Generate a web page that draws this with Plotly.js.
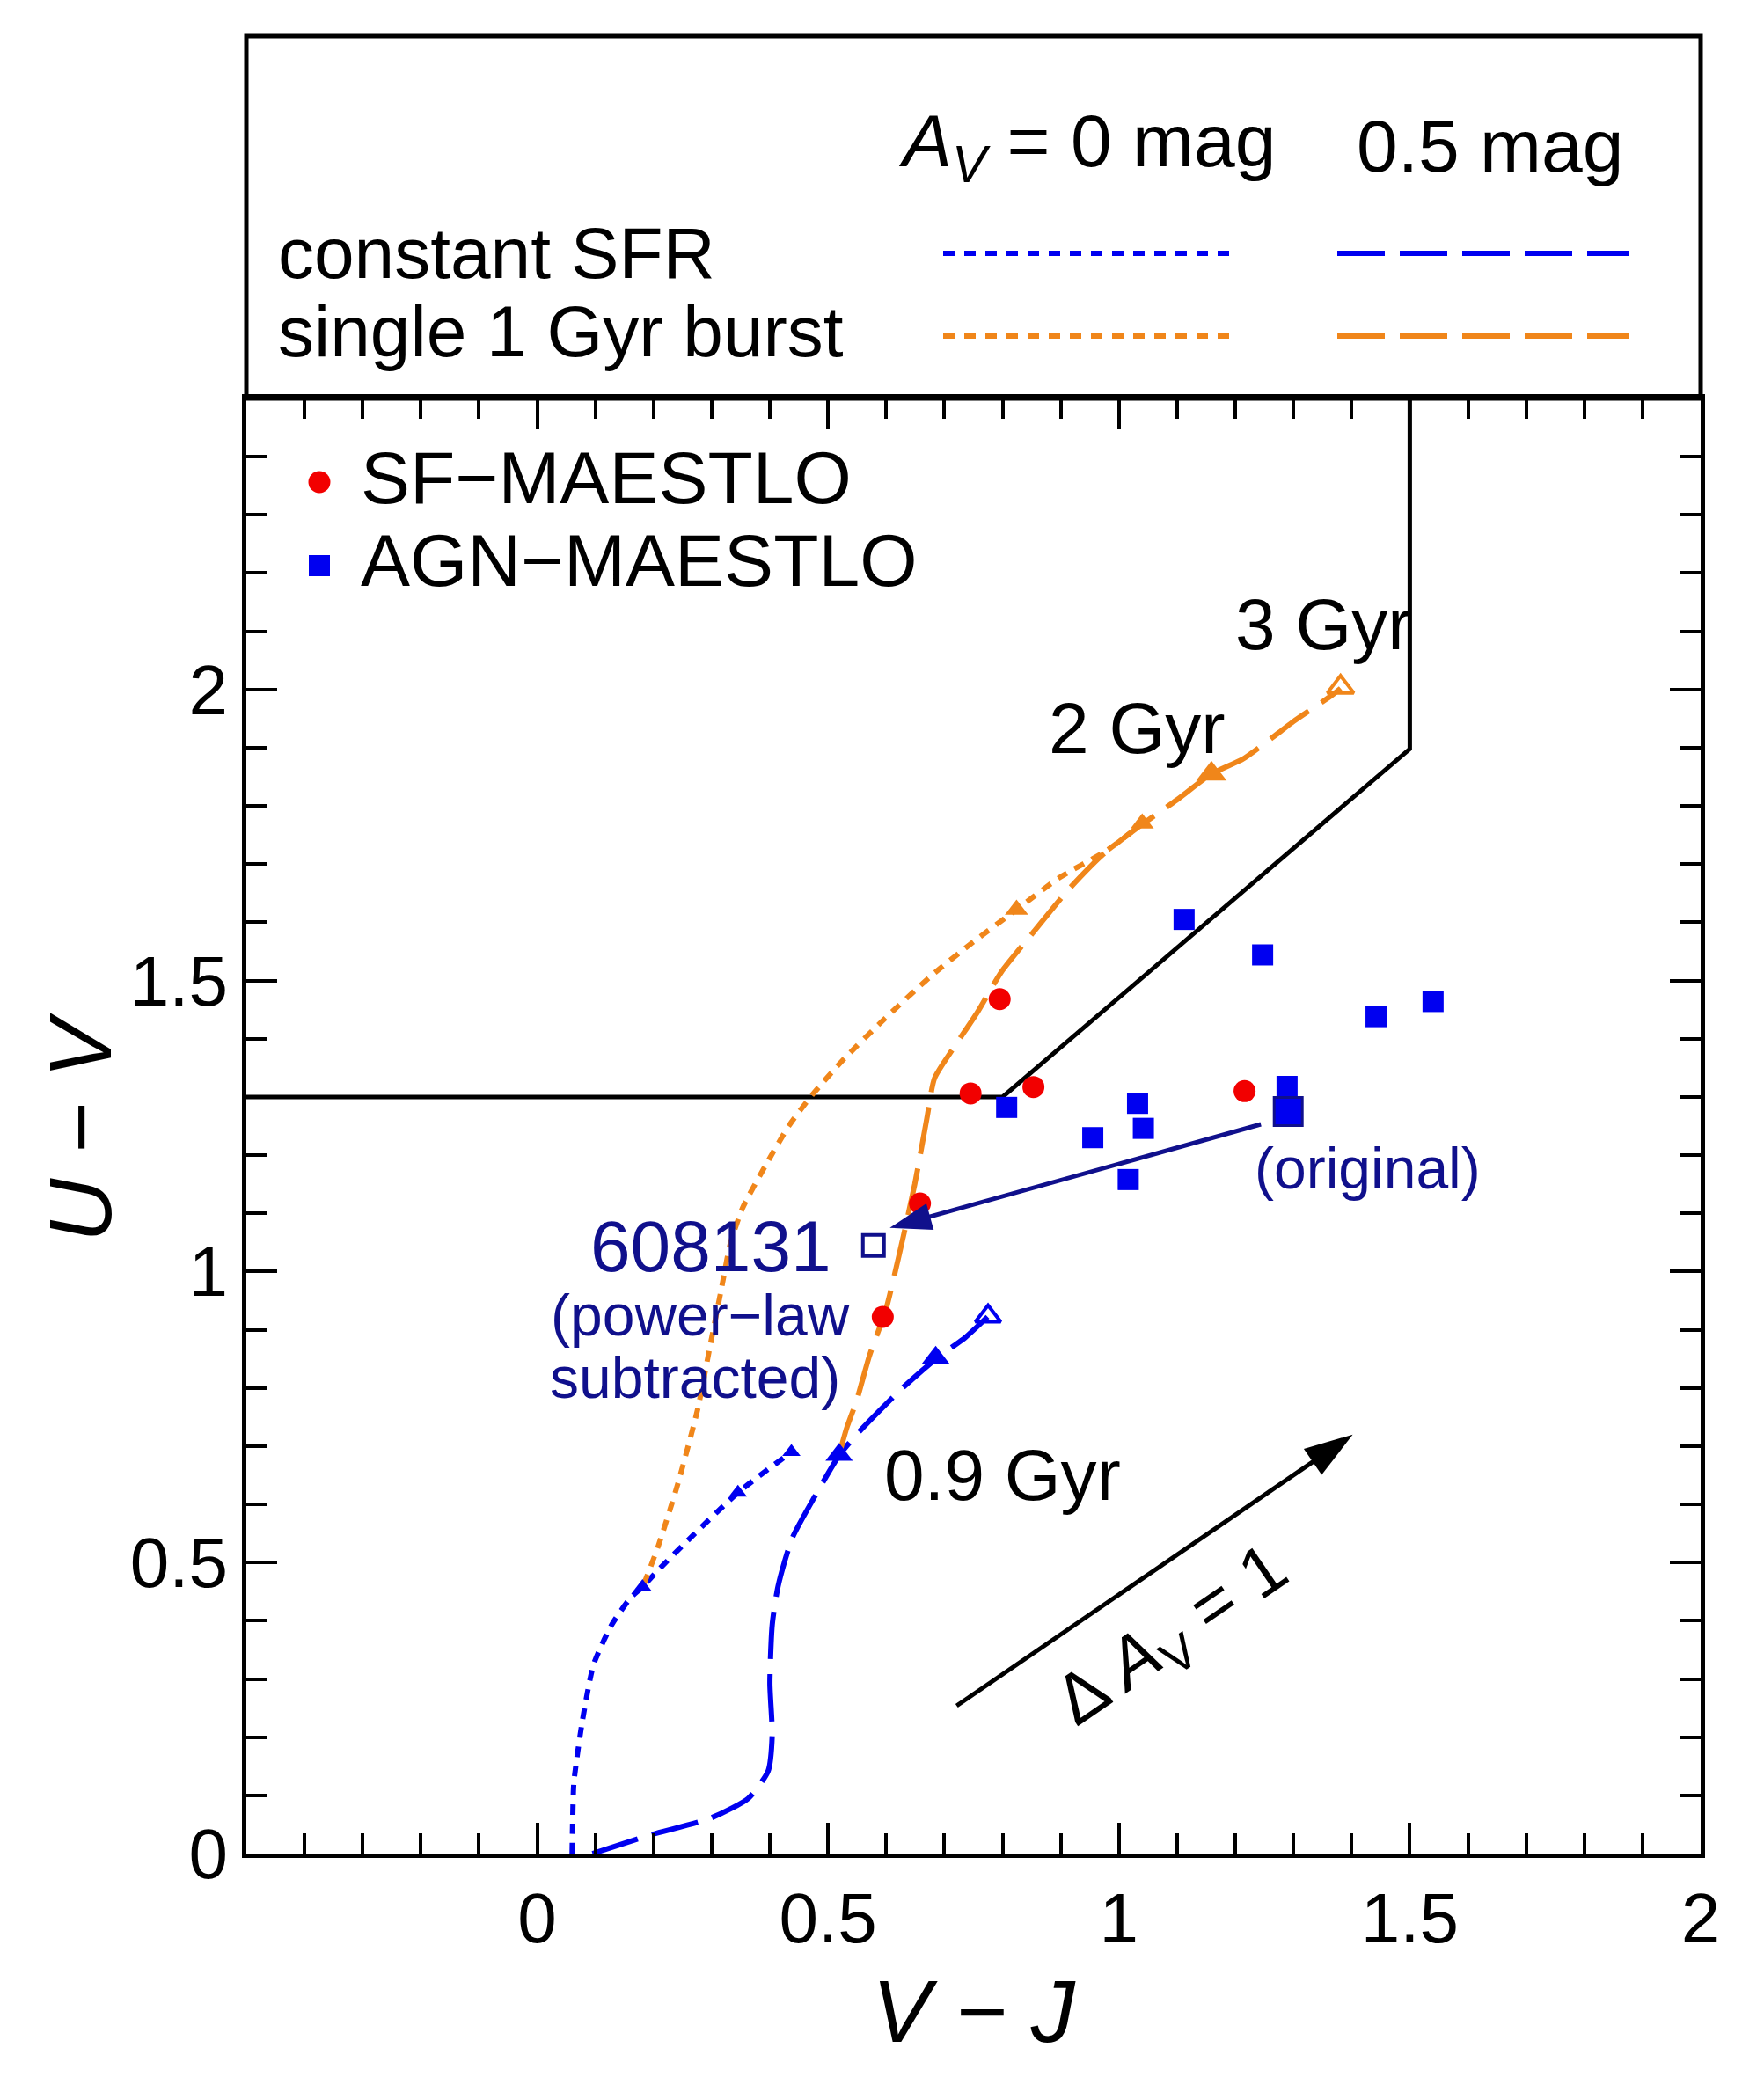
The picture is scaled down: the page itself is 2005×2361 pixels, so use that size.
<!DOCTYPE html>
<html>
<head>
<meta charset="utf-8">
<script src="https://cdn.plot.ly/plotly-3.0.1.min.js"></script>
<style>
html, body { margin: 0; padding: 0; background: #ffffff; }
#chart { width: 2005px; height: 2361px; }
</style>
</head>
<body>
<div id="chart"></div>
<script>
// ---------- data ----------
// UVJ quiescent selection boundary
const boxX = [-0.5, 0.8, 1.5, 1.5];
const boxY = [1.3, 1.3, 1.898, 2.5];

// constant SFR, A_V = 0 (dotted blue)
const csfr0X = [0.060, 0.061, 0.063, 0.077, 0.097, 0.128, 0.161, 0.181, 0.208, 0.262, 0.345, 0.437];
const csfr0Y = [0.000, 0.060, 0.122, 0.224, 0.325, 0.393, 0.440, 0.458, 0.487, 0.541, 0.620, 0.690];
// constant SFR, A_V = 0.5 (dashed blue)
const csfr5X = [0.095, 0.195, 0.296, 0.363, 0.397, 0.404, 0.400, 0.404, 0.414, 0.438, 0.478, 0.519, 0.552, 0.626, 0.688, 0.735, 0.775];
const csfr5Y = [0.000, 0.032, 0.060, 0.095, 0.142, 0.204, 0.292, 0.393, 0.459, 0.541, 0.615, 0.684, 0.723, 0.798, 0.852, 0.886, 0.923];
// single 1 Gyr burst, A_V = 0 (dotted orange)
const burst0X = [0.183, 0.208, 0.242, 0.276, 0.296, 0.316, 0.332, 0.353, 0.393, 0.433, 0.474, 0.528, 0.596, 0.676, 0.744, 0.824, 0.898, 0.980, 1.040];
const burst0Y = [0.462, 0.528, 0.636, 0.764, 0.866, 0.967, 1.048, 1.109, 1.183, 1.251, 1.305, 1.366, 1.433, 1.507, 1.562, 1.622, 1.677, 1.724, 1.770];
// single 1 Gyr burst, A_V = 0.5 (dashed orange)
const burst5X = [0.519, 0.532, 0.549, 0.571, 0.599, 0.622, 0.649, 0.670, 0.683, 0.717, 0.757, 0.798, 0.852, 0.913, 0.973, 1.034, 1.099, 1.159, 1.214, 1.275, 1.300, 1.366, 1.381];
const burst5Y = [0.685, 0.731, 0.778, 0.855, 0.933, 1.028, 1.150, 1.264, 1.332, 1.386, 1.446, 1.515, 1.582, 1.656, 1.717, 1.764, 1.810, 1.855, 1.881, 1.926, 1.945, 1.990, 2.002];

// age markers on the tracks
const csfr0TriX = [0.181, 0.345, 0.437];
const csfr0TriY = [0.458, 0.620, 0.690];
const csfr5TriX = [0.519, 0.685];
const csfr5TriY = [0.685, 0.852];
const csfr5EndX = [0.775];
const csfr5EndY = [0.923];
const burst0TriX = [0.824, 1.040];
const burst0TriY = [1.622, 1.770];
const burst5TriX = [1.159];
const burst5TriY = [1.855];
const burst5EndX = [1.381];
const burst5EndY = [2.004];

// galaxies
const sfX = [0.795, 0.745, 0.853, 1.216, 0.658, 0.594];
const sfY = [1.468, 1.306, 1.317, 1.310, 1.117, 0.922];
const agnX = [1.112, 1.247, 1.442, 1.540, 0.807, 1.032, 0.955, 1.042, 1.016, 1.289];
const agnY = [1.605, 1.544, 1.438, 1.464, 1.282, 1.289, 1.230, 1.246, 1.158, 1.318];
// 608131: original and power-law subtracted
const origX = [1.291];
const origY = [1.275];
const subX = [0.578];
const subY = [1.045];

// reddening vector (Delta A_V = 1): [tail, head]
const redVecX = [0.721, 1.402];
const redVecY = [0.254, 0.720];
// arrow for 608131: [tail, head]
const shiftX = [1.244, 0.606];
const shiftY = [1.253, 1.075];

const xTicks = [0, 0.5, 1, 1.5, 2];
const xTickText = ['0', '0.5', '1', '1.5', '2'];
const yTicks = [0, 0.5, 1, 1.5, 2];
const yTickText = ['0', '0.5', '1', '1.5', '2'];

// ---------- styles ----------
const BLUE = '#0000f0';
const ORANGE = '#f0861a';
const RED = '#f20000';
const NAVY = '#10108c';
const DOT = '12px,10px';
const DASH = '54px,17px';
const FONT = 'Liberation Sans, Arial, Helvetica, sans-serif';

const traces = [
  {x: boxX, y: boxY, mode: 'lines', line: {color: 'black', width: 5}},
  {x: csfr0X, y: csfr0Y, mode: 'lines', line: {color: BLUE, width: 6, dash: DOT, shape: 'spline', smoothing: 0.6}},
  {x: csfr5X, y: csfr5Y, mode: 'lines', line: {color: BLUE, width: 6, dash: DASH, shape: 'spline', smoothing: 0.6}},
  {x: burst0X, y: burst0Y, mode: 'lines', line: {color: ORANGE, width: 6, dash: DOT, shape: 'spline', smoothing: 0.6}},
  {x: burst5X, y: burst5Y, mode: 'lines', line: {color: ORANGE, width: 6, dash: DASH, shape: 'spline', smoothing: 0.6}},
  {x: csfr0TriX, y: csfr0TriY, mode: 'markers', marker: {symbol: 'triangle-up', size: 18, color: BLUE}},
  {x: csfr5TriX, y: csfr5TriY, mode: 'markers', marker: {symbol: 'triangle-up', size: 27, color: BLUE}},
  {x: csfr5EndX, y: csfr5EndY, mode: 'markers', marker: {symbol: 'triangle-up-open', size: 25, color: BLUE, line: {width: 4}}},
  {x: burst0TriX, y: burst0TriY, mode: 'markers', marker: {symbol: 'triangle-up', size: 23, color: ORANGE}},
  {x: burst5TriX, y: burst5TriY, mode: 'markers', marker: {symbol: 'triangle-up', size: 30, color: ORANGE}},
  {x: burst5EndX, y: burst5EndY, mode: 'markers', marker: {symbol: 'triangle-up-open', size: 26, color: ORANGE, line: {width: 4}}},
  {x: sfX, y: sfY, mode: 'markers', name: 'SF−MAESTLO', marker: {symbol: 'circle', size: 25, color: RED}},
  {x: agnX, y: agnY, mode: 'markers', name: 'AGN−MAESTLO', marker: {symbol: 'square', size: 24, color: BLUE}},
  {x: origX, y: origY, mode: 'markers', marker: {symbol: 'square', size: 32, color: BLUE, line: {color: NAVY, width: 3}}},
  {x: subX, y: subY, mode: 'markers', marker: {symbol: 'square-open', size: 24, color: NAVY, line: {width: 4}}},
  {x: shiftX, y: shiftY, mode: 'lines+markers', line: {color: NAVY, width: 5},
   marker: {symbol: 'arrow', size: [0, 50], opacity: 1, color: NAVY, angleref: 'previous', line: {width: 0}}},
  {x: redVecX, y: redVecY, mode: 'lines+markers', line: {color: 'black', width: 5},
   marker: {symbol: 'arrow', size: [0, 58], opacity: 1, color: 'black', angleref: 'previous', line: {width: 0}}}
];
traces.forEach(t => { t.showlegend = false; t.type = 'scatter'; t.cliponaxis = true; t.hoverinfo = 'skip'; });

// paper-coordinate helpers (plot area: x 280..1933, y 41..2107)
const PL = 280, PW = 1653, PT = 41, PH = 2066;
const px = X => (X - PL) / PW;
const py = Y => (PT + PH - Y) / PH;
const lowerTop = py(453);

const shapes = [
  // upper key box
  {type: 'rect', xref: 'paper', yref: 'paper', x0: 0, x1: 1, y0: lowerTop, y1: 1, line: {color: 'black', width: 5}},
  // key line samples
  {type: 'line', xref: 'paper', yref: 'paper', x0: px(1072), x1: px(1398), y0: py(288), y1: py(288), line: {color: BLUE, width: 6, dash: '13px,11px'}},
  {type: 'line', xref: 'paper', yref: 'paper', x0: px(1520), x1: px(1852), y0: py(288), y1: py(288), line: {color: BLUE, width: 6, dash: DASH}},
  {type: 'line', xref: 'paper', yref: 'paper', x0: px(1072), x1: px(1398), y0: py(382), y1: py(382), line: {color: ORANGE, width: 6, dash: '13px,11px'}},
  {type: 'line', xref: 'paper', yref: 'paper', x0: px(1520), x1: px(1852), y0: py(382), y1: py(382), line: {color: ORANGE, width: 6, dash: DASH}},
  // symbol legend swatches
  {type: 'circle', xref: 'paper', yref: 'paper', xsizemode: 'pixel', ysizemode: 'pixel', xanchor: px(363), yanchor: py(548), x0: -12.5, x1: 12.5, y0: -12.5, y1: 12.5, fillcolor: RED, line: {width: 0}},
  {type: 'rect', xref: 'paper', yref: 'paper', xsizemode: 'pixel', ysizemode: 'pixel', xanchor: px(363), yanchor: py(643), x0: -12, x1: 12, y0: -12, y1: 12, fillcolor: BLUE, line: {width: 0}}
];

const ann = [];
function txt(text, x, y, size, color, xanchor, opts) {
  const a = Object.assign({text: text, x: x, y: y, xref: 'x', yref: 'y', showarrow: false,
    font: {family: FONT, size: size, color: color || 'black'}, xanchor: xanchor || 'center', yanchor: 'middle'}, opts || {});
  ann.push(a);
}
// y-axis title, placed as in the reference
txt('<i>U − V</i>', px(91), py(1282), 100, 'black', 'center', {xref: 'paper', yref: 'paper', textangle: -90});
// upper key texts
txt('<i>A</i><sub><i>V</i></sub> = 0 mag', px(1235), py(166), 84, 'black', 'center', {xref: 'paper', yref: 'paper'});
txt('0.5 mag', px(1694), py(166), 84, 'black', 'center', {xref: 'paper', yref: 'paper'});
txt('constant SFR', px(314), py(287), 82, 'black', 'left', {xref: 'paper', yref: 'paper'});
txt('single 1 Gyr burst', px(314), py(377), 82, 'black', 'left', {xref: 'paper', yref: 'paper'});
// symbol legend texts
txt('SF−MAESTLO', px(408), py(543), 84, 'black', 'left', {xref: 'paper', yref: 'paper'});
txt('AGN−MAESTLO', px(408), py(637), 84, 'black', 'left', {xref: 'paper', yref: 'paper'});
// in-plot labels
txt('3 Gyr', 1.351, 2.112, 82);
txt('2 Gyr', 1.031, 1.934, 82);
txt('0.9 Gyr', 0.800, 0.651, 82);
txt('(original)', 1.427, 1.178, 66, NAVY);
txt('608131', 0.298, 1.043, 82, NAVY);
txt('(power−law', 0.280, 0.925, 66, NAVY);
txt('subtracted)', 0.271, 0.818, 66, NAVY);
txt('Δ <i>A</i><sub>V</sub> = 1', 1.094, 0.371, 80, 'black', 'center', {textangle: -34.4});

const axisCommon = {
  ticks: 'inside', ticklen: 35, tickwidth: 4, tickcolor: 'black',
  showline: true, linewidth: 5, linecolor: 'black', mirror: 'allticks',
  showgrid: false, zeroline: false, automargin: false,
  tickfont: {family: FONT, size: 80, color: 'black'},
  minor: {dtick: 0.1, tick0: 0, ticks: 'inside', ticklen: 23, tickwidth: 4, tickcolor: 'black', showgrid: false}
};

const layout = {
  width: 2005, height: 2361,
  margin: {l: PL, r: 2005 - PL - PW, t: PT, b: 2361 - PT - PH, pad: 0},
  paper_bgcolor: '#ffffff', plot_bgcolor: '#ffffff',
  showlegend: false,
  font: {family: FONT, color: 'black'},
  xaxis: Object.assign({}, axisCommon, {
    range: [-0.5, 2], tickmode: 'array', tickvals: xTicks, ticktext: xTickText,
    title: {text: '<i>V − J</i>', font: {family: FONT, size: 100, color: 'black'}, standoff: 28}
  }),
  yaxis: Object.assign({}, axisCommon, {
    domain: [0, lowerTop], range: [0, 2.5], tickmode: 'array', tickvals: yTicks, ticktext: yTickText
  }),
  shapes: shapes,
  annotations: ann
};

Plotly.newPlot('chart', traces, layout, {staticPlot: true, displayModeBar: false});
</script>
</body>
</html>
